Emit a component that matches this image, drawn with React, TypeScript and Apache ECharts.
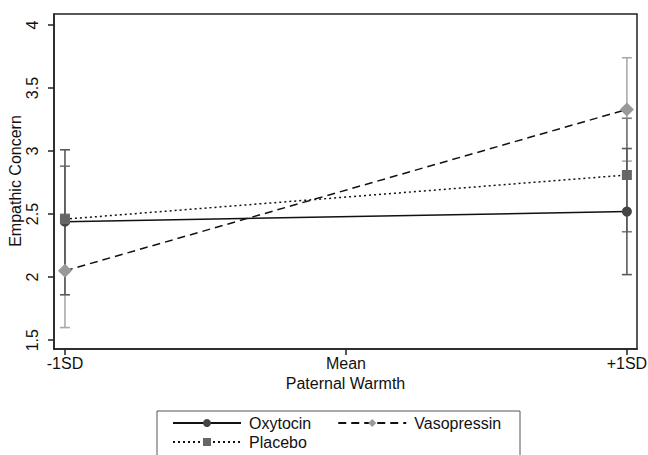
import React, { useEffect, useRef } from "react";
import * as echarts from "echarts";

const categories = ["-1SD", "Mean", "+1SD"];
const categoryPositions = [0, 1, 2];
const pointPositions = [0, 2];
const yTicks = [1.5, 2, 2.5, 3, 3.5, 4];
const xTitle = "Paternal Warmth";
const yTitle = "Empathic Concern";

const oxytocin = [2.44, 2.52];
const oxytocinLow = [1.86, 2.02];
const oxytocinHigh = [3.01, 3.02];

const vasopressin = [2.05, 3.33];
const vasopressinLow = [1.6, 2.92];
const vasopressinHigh = [2.5, 3.74];

const placebo = [2.46, 2.81];
const placeboLow = [2.04, 2.36];
const placeboHigh = [2.88, 3.26];

const FONT = "Liberation Sans, Arial, Helvetica, sans-serif";
const TEXT = "#111111";

function errorSeries(name: string, low: number[], high: number[], color: string) {
  return {
    type: "custom",
    name,
    silent: true,
    z: 1,
    data: pointPositions.map((x, i) => [x, low[i], high[i]]),
    renderItem: (_p: any, api: any) => {
      const x = api.value(0);
      const a = api.coord([x, api.value(1)]);
      const b = api.coord([x, api.value(2)]);
      const w = 5;
      const st = { stroke: color, lineWidth: 1.6 };
      return {
        type: "group",
        children: [
          { type: "line", shape: { x1: a[0], y1: a[1], x2: b[0], y2: b[1] }, style: st },
          { type: "line", shape: { x1: a[0] - w, y1: a[1], x2: a[0] + w, y2: a[1] }, style: st },
          { type: "line", shape: { x1: b[0] - w, y1: b[1], x2: b[0] + w, y2: b[1] }, style: st },
        ],
      };
    },
  };
}

function lineSeries(name: string, vals: number[], symbol: string, size: number, markColor: string, lineType: any) {
  return {
    type: "line",
    name,
    z: 3,
    data: pointPositions.map((x, i) => [x, vals[i]]),
    symbol,
    symbolSize: size,
    itemStyle: { color: markColor },
    lineStyle: { color: "#111", width: 1.5, type: lineType },
  };
}

const legendCommon = {
  orient: "horizontal",
  itemWidth: 68,
  itemHeight: 10,
  itemGap: 26,
  padding: 0,
  textStyle: { fontFamily: FONT, fontSize: 16, color: TEXT, padding: [0, 0, 0, 3] },
};

export default function App() {
  const ref = useRef<HTMLDivElement>(null);
  useEffect(() => {
    const chart = echarts.init(ref.current!, null, { renderer: "svg" });
    chart.setOption({
      animation: false,
      backgroundColor: "#fff",
      textStyle: { fontFamily: FONT },
      grid: {
        left: 54,
        right: 11,
        top: 14,
        bottom: 106,
        show: true,
        containLabel: false,
        outerBoundsMode: "none",
        borderColor: "#222",
        borderWidth: 1.5,
      },
      legend: [
        { ...legendCommon, left: 172, top: 415, data: ["Oxytocin", "Vasopressin"] },
        { ...legendCommon, left: 172, top: 434, data: ["Placebo"] },
      ],
      graphic: [
        {
          type: "rect",
          shape: { x: 157, y: 411, width: 363, height: 60 },
          style: { fill: "none", stroke: "#555", lineWidth: 1 },
        },
        {
          type: "text",
          x: 15,
          y: 181,
          rotation: Math.PI / 2,
          style: {
            text: yTitle,
            fontFamily: FONT,
            fontSize: 16,
            fill: TEXT,
            align: "center",
            verticalAlign: "middle",
          },
        },
      ],
      xAxis: {
        type: "value",
        min: -0.039,
        max: 2.036,
        name: xTitle,
        nameLocation: "middle",
        nameGap: 25,
        nameTextStyle: { fontFamily: FONT, fontSize: 16, color: TEXT },
        splitLine: { show: false },
        axisLine: { show: true, onZero: false, lineStyle: { color: "#222", width: 1.5 } },
        axisTick: { show: true, customValues: categoryPositions, length: 6, lineStyle: { color: "#222", width: 1.5 } },
        axisLabel: {
          customValues: categoryPositions,
          formatter: (v: number) => categories[Math.round(v)] ?? "",
          fontFamily: FONT,
          fontSize: 16,
          color: TEXT,
          margin: 6,
        },
      },
      yAxis: {
        type: "value",
        min: 1.43,
        max: 4.087,
        splitLine: { show: false },
        axisLine: { show: true, onZero: false, lineStyle: { color: "#222", width: 1.5 } },
        axisTick: { show: true, customValues: yTicks, length: 6, lineStyle: { color: "#222", width: 1.5 } },
        axisLabel: {
          customValues: yTicks,
          rotate: 90,
          fontFamily: FONT,
          fontSize: 16,
          color: TEXT,
          margin: 14,
          formatter: (v: number) => String(v),
        },
      },
      series: [
        errorSeries("vaso-err", vasopressinLow, vasopressinHigh, "#aaaaaa"),
        errorSeries("plac-err", placeboLow, placeboHigh, "#7a7a7a"),
        errorSeries("oxy-err", oxytocinLow, oxytocinHigh, "#5a5a5a"),
        lineSeries("Oxytocin", oxytocin, "circle", 10, "#444444", "solid"),
        lineSeries("Vasopressin", vasopressin, "diamond", 14, "#999999", [8, 5]),
        lineSeries("Placebo", placebo, "rect", 10, "#666666", [2, 3]),
      ],
    });
    return () => chart.dispose();
  }, []);
  return <div ref={ref} style={{ position: "fixed", left: 0, top: 0, width: 648, height: 455 }} />;
}
